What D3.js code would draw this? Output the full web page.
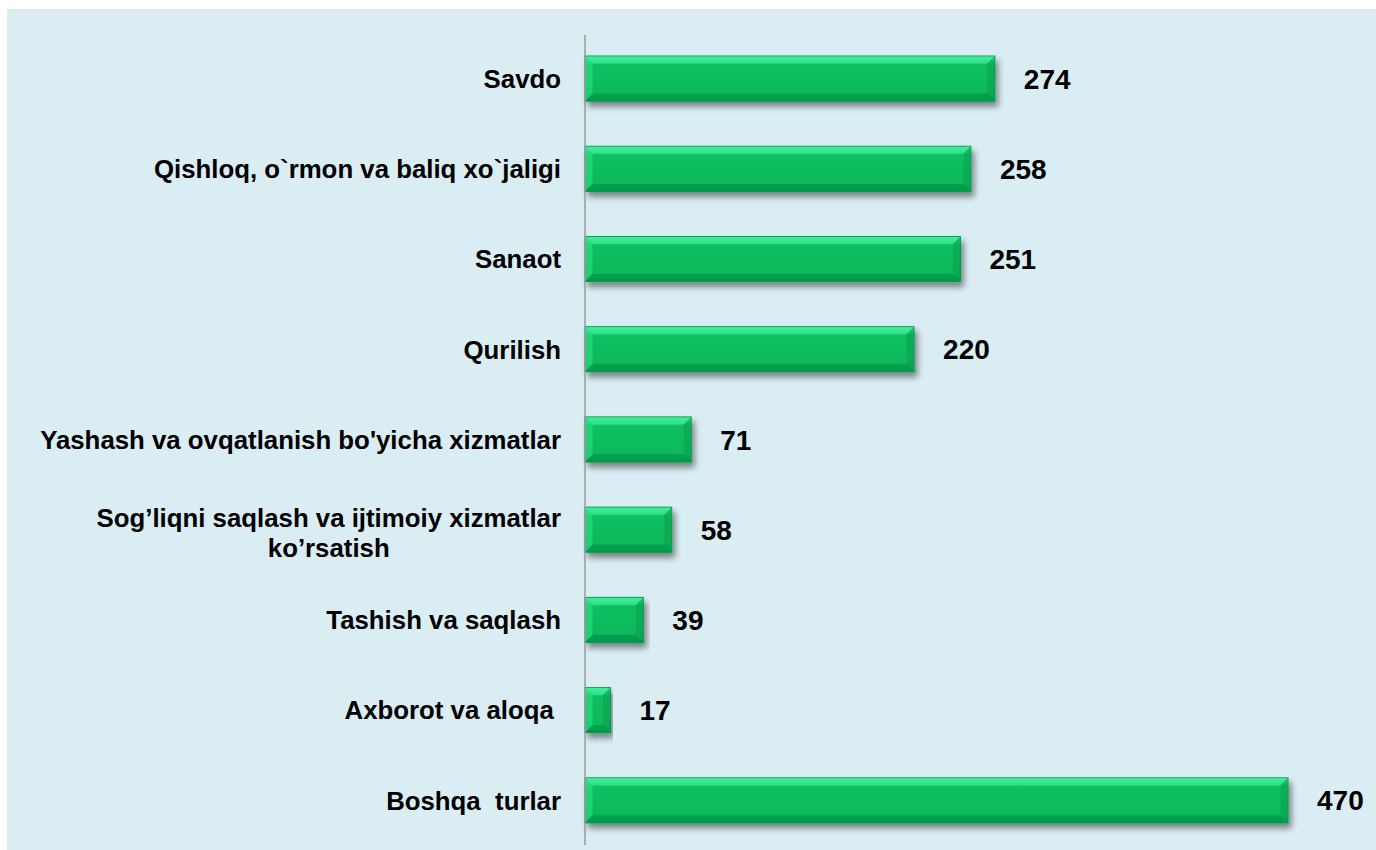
<!DOCTYPE html>
<html><head><meta charset="utf-8">
<script src="https://cdn.jsdelivr.net/npm/d3@7/dist/d3.min.js"></script>
<style>body{margin:0;background:#fff}svg{display:block}text{white-space:pre}</style>
</head><body>
<svg id="c" width="1376" height="850"></svg>
<script>
const categories = [
  ["Savdo"],
  ["Qishloq, o`rmon va baliq xo`jaligi"],
  ["Sanaot"],
  ["Qurilish"],
  ["Yashash va ovqatlanish bo'yicha xizmatlar"],
  ["Sog’liqni saqlash va ijtimoiy xizmatlar", "ko’rsatish"],
  ["Tashish va saqlash"],
  ["Axborot va aloqa "],
  ["Boshqa  turlar"]
];
const values = [274, 258, 251, 220, 71, 58, 39, 17, 470];

const svg = d3.select("#c");
svg.append("rect").attr("x",7).attr("y",9).attr("width",1369).attr("height",841).attr("fill","#daedf3");

const defs = svg.append("defs");
const f = defs.append("filter").attr("id","sh").attr("x","-5%").attr("y","-30%").attr("width","115%").attr("height","180%");
f.append("feGaussianBlur").attr("in","SourceAlpha").attr("stdDeviation",3).attr("result","b");
f.append("feOffset").attr("in","b").attr("dx",3).attr("dy",5).attr("result","o");
f.append("feComponentTransfer").attr("in","o").attr("result","o2").append("feFuncA").attr("type","linear").attr("slope",0.45);
const m = f.append("feMerge"); m.append("feMergeNode").attr("in","o2"); m.append("feMergeNode").attr("in","SourceGraphic");

const g1 = defs.append("linearGradient").attr("id","gv").attr("x1",0).attr("y1",0).attr("x2",0).attr("y2",1);
[[0,"#3ff09a"],[0.12,"#22d57a"],[0.2,"#0cc062"],[0.8,"#08b85a"],[1,"#07a24e"]].forEach(s=>g1.append("stop").attr("offset",s[0]).attr("stop-color",s[1]));

const x0 = 585;
const x = d3.scaleLinear().domain([0,470]).range([x0,1288]);
const y = d3.scaleBand().domain(d3.range(values.length)).range([33.5,845.5]).paddingInner(0.5).paddingOuter(0.25);

const bars = svg.append("g").selectAll("g").data(values).join("g").attr("filter","url(#sh)");
bars.append("rect").attr("x",x0).attr("y",(d,i)=>y(i)).attr("width",d=>x(d)-x0).attr("height",y.bandwidth()).attr("fill","url(#gv)").attr("stroke","#079a4a").attr("stroke-width",1);
// bevels
const bv = 7;
const pts = (d,i)=>({X0:x0+0.5,X1:x(d)-0.5,Y0:y(i)+0.5,Y1:y(i)+y.bandwidth()-0.5});
bars.append("path").attr("d",(d,i)=>{const {X0,X1,Y0,Y1}=pts(d,i);return `M${X0},${Y0}L${X1},${Y0}L${X1-bv},${Y0+bv}L${X0+bv},${Y0+bv}Z`;}).attr("fill","#46f0a0").attr("opacity",0.55);
bars.append("path").attr("d",(d,i)=>{const {X0,X1,Y0,Y1}=pts(d,i);return `M${X0},${Y0}L${X0+bv},${Y0+bv}L${X0+bv},${Y1-bv}L${X0},${Y1}Z`;}).attr("fill","#2fe08a").attr("opacity",0.6);
bars.append("path").attr("d",(d,i)=>{const {X0,X1,Y0,Y1}=pts(d,i);return `M${X1},${Y0}L${X1},${Y1}L${X1-bv},${Y1-bv}L${X1-bv},${Y0+bv}Z`;}).attr("fill","#089a4c").attr("opacity",0.5);
bars.append("path").attr("d",(d,i)=>{const {X0,X1,Y0,Y1}=pts(d,i);return `M${X0},${Y1}L${X1},${Y1}L${X1-bv},${Y1-bv}L${X0+bv},${Y1-bv}Z`;}).attr("fill","#06914a").attr("opacity",0.55);

// axis line
svg.append("line").attr("x1",x0).attr("x2",x0).attr("y1",35).attr("y2",845).attr("stroke","#9a9a9a").attr("stroke-width",1.5);

// value labels
svg.append("g").selectAll("text").data(values).join("text")
  .attr("x",d=>x(d)+29).attr("y",(d,i)=>y(i)+y.bandwidth()/2).attr("dy","0.36em")
  .attr("font-family","Liberation Sans, Arial, sans-serif").attr("font-weight","bold").attr("font-size",28).attr("fill","#000")
  .text(d=>d);

// category labels
const lab = svg.append("g").selectAll("text").data(categories).join("text")
  .attr("font-family","Liberation Sans, Arial, sans-serif").attr("font-weight","bold").attr("font-size",25.8).attr("fill","#000")
  .attr("text-anchor","end")
  .attr("x",561).attr("y",(d,i)=>y(i)+y.bandwidth()/2);
lab.each(function(d,i){
  const t = d3.select(this);
  if(d.length===1){ t.append("tspan").attr("x",561).attr("dy","0.36em").text(d[0]); }
  else {
    t.attr("text-anchor","middle");
    const tmp = t.append("tspan").text(d[0]);
    const w = this.getComputedTextLength();
    tmp.remove();
    const cx = 561 - w/2;
    d.forEach((s,k)=>t.append("tspan").attr("x",cx).attr("dy", k===0? "-0.12em":"1.17em").text(s));
  }
});
</script>
</body></html>
